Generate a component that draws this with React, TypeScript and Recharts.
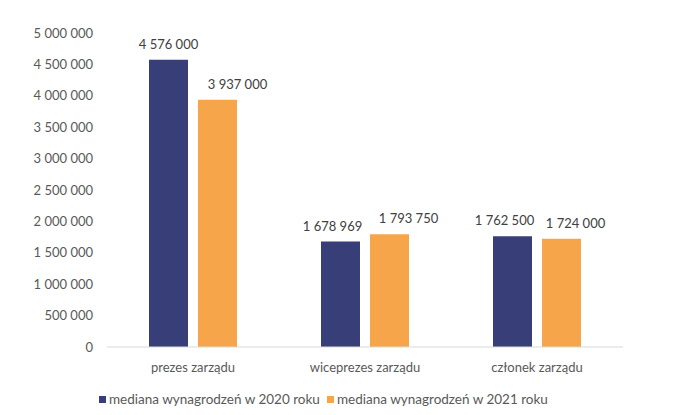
import React from "react";
import { BarChart, Bar, XAxis, YAxis, Legend, LabelList } from "recharts";

const categories = ["prezes zarządu", "wiceprezes zarządu", "członek zarządu"];
const series2020 = [4576000, 1678969, 1762500];
const series2021 = [3937000, 1793750, 1724000];
const yTicks = [0, 500000, 1000000, 1500000, 2000000, 2500000, 3000000, 3500000, 4000000, 4500000, 5000000];
const seriesNames = ["mediana wynagrodzeń w 2020 roku", "mediana wynagrodzeń w 2021 roku"];
// horizontal nudges of the value labels (as placed in the original)
const labelShift2020 = [0, -8, -8];
const labelShift2021 = [20, 19, 14];

const data = categories.map((c, i) => ({ name: c, a: series2020[i], b: series2021[i] }));

const fmt = (v: number) => String(v).replace(/\B(?=(\d{3})+(?!\d))/g, " ");

const FONT = "Lato, 'Open Sans', sans-serif";
const BLUE = "#383F78";
const ORANGE = "#F7A54A";

const LegendContent = () => (
  <div style={{ display: "flex", fontFamily: FONT, fontSize: 13.5, color: "#595959", paddingLeft: 99, paddingTop: 10 }}>
    {[BLUE, ORANGE].map((c, i) => (
      <div key={i} style={{ display: "flex", alignItems: "center", width: i === 0 ? 228 : "auto", whiteSpace: "nowrap" }}>
        <span style={{ width: 7, height: 7, background: c, display: "inline-block", marginRight: 3 }} />
        <span>{seriesNames[i]}</span>
      </div>
    ))}
  </div>
);

const makeLabel = (shifts: number[]) => (props: any) => {
  const { x, y, width, value, index } = props;
  const cx = Number(x) + Number(width) / 2 + (shifts[index] || 0);
  return (
    <text
      x={cx}
      y={Number(y) - 11}
      textAnchor="middle"
      fill="#404040"
      fontSize={13}
      fontFamily={FONT}
    >
      {fmt(Number(value))}
    </text>
  );
};

export default function App() {
  return (
    <div style={{ position: "absolute", left: 0, top: 0, background: "#fff" }}>
      <BarChart
        width={674}
        height={415}
        data={data}
        margin={{ top: 33, right: 51, left: 0, bottom: 0 }}
        barGap={10}
        barSize={39}
      >
        <XAxis
          dataKey="name"
          axisLine={{ stroke: "#d9d9d9" }}
          tickLine={false}
          tick={{ fill: "#595959", fontSize: 13, fontFamily: FONT }}
          tickMargin={10}
          height={34}
        />
        <YAxis
          domain={[0, 5000000]}
          ticks={yTicks}
          tickFormatter={fmt}
          axisLine={false}
          tickLine={false}
          tickSize={0}
          tickMargin={14}
          width={107}
          tick={{ fill: "#595959", fontSize: 13, fontFamily: FONT }}
          interval={0}
        />
        <Legend verticalAlign="bottom" content={<LegendContent />} wrapperStyle={{ height: 34 }} />
        <Bar dataKey="a" name={seriesNames[0]} fill={BLUE} isAnimationActive={false}>
          <LabelList dataKey="a" content={makeLabel(labelShift2020)} />
        </Bar>
        <Bar dataKey="b" name={seriesNames[1]} fill={ORANGE} isAnimationActive={false}>
          <LabelList dataKey="b" content={makeLabel(labelShift2021)} />
        </Bar>
      </BarChart>
    </div>
  );
}
